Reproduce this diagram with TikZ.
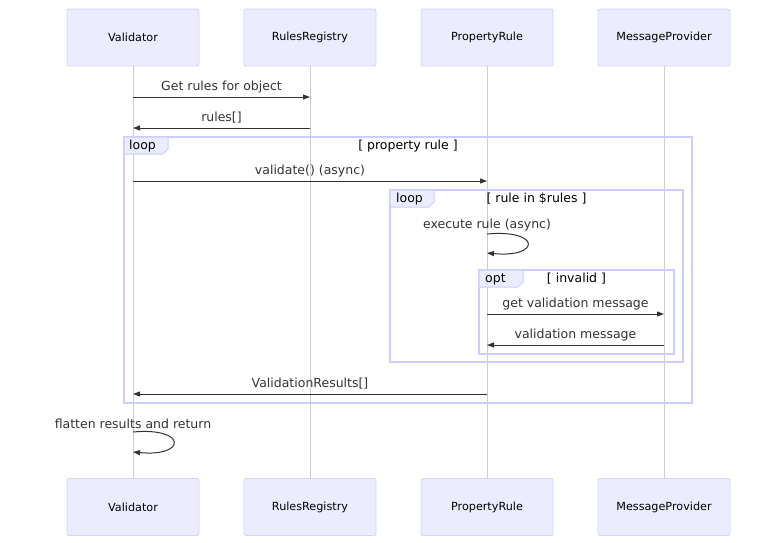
\documentclass[tikz,border=0pt]{standalone}
\usepackage{fontspec}
\setmainfont{DejaVu Sans}
\usetikzlibrary{arrows.meta}
\definecolor{actorfill}{HTML}{ECECFF}
\definecolor{actorline}{HTML}{D6D3F4}
\definecolor{framecol}{HTML}{CCCCFF}
\definecolor{lifecol}{HTML}{CCCCCC}
\definecolor{msgcol}{HTML}{333333}
\tikzset{
  x=1pt, y=-1pt,
  actor/.style={draw=actorline, fill=actorfill, rounded corners=2pt, line width=0.8pt,
    minimum width=132pt, minimum height=57pt, inner sep=0pt, font=\fontsize{11.2}{13}\selectfont},
  lifeline/.style={draw=lifecol, line width=1pt},
  msg/.style={draw=msgcol, line width=1pt, -{Triangle[length=7pt,width=5pt]}},
  msgtext/.style={font=\fontsize{12.5}{14}\selectfont, text=msgcol, inner sep=0pt},
  frame/.style={draw=framecol, line width=1.4pt},
  tab/.style={draw=framecol, fill=actorfill, line width=1pt},
  tabtext/.style={font=\fontsize{12.5}{14}\selectfont, inner sep=0pt, anchor=west},
  condtext/.style={font=\fontsize{12.5}{14}\selectfont, inner sep=0pt}
}
\begin{document}
\begin{tikzpicture}
\useasboundingbox[fill=white] (0,0) rectangle (784,543);

% participants, top and bottom
\foreach \n/\x/\t in {v/133/Validator, r/310/RulesRegistry, p/487/PropertyRule, m/664/MessageProvider}{
  \node[actor] (\n top) at (\x,37.5) {\t};
  \node[actor] (\n bot) at (\x,507) {\t};
  \draw[lifeline] (\n top.south) -- (\n bot.north);
}

% outer loop frame
\draw[frame] (124,137) rectangle (692,403);
\draw[tab] (124,137) -- (168,137) -- (168,149) -- (163,154) -- (124,154) -- cycle;
\node[tabtext] (l1tab) at (129,146) {loop};
\node[condtext] (l1cond) at (408,146) {[ property rule ]};

% inner loop frame
\draw[frame] (390,190) rectangle (683,362);
\draw[tab] (390,190) -- (434,190) -- (434,202) -- (429,207) -- (390,207) -- cycle;
\node[tabtext] (l2tab) at (396,199) {loop};
\node[condtext] (l2cond) at (536.5,199) {[ rule in \$rules ]};

% opt frame
\draw[frame] (479,270) rectangle (674,354);
\draw[tab] (479,270) -- (523,270) -- (523,282) -- (518,287) -- (479,287) -- cycle;
\node[tabtext] (opttab) at (485,279) {opt};
\node[condtext] (optcond) at (576.5,279) {[ invalid ]};

% anchor points on the lifelines
\foreach \n/\x in {v/133, r/310, p/487, m/664}{
  \foreach \y in {97,128,181,234,253,314,345,394,432,452}{
    \coordinate (\n\y) at (\x,\y);
  }
}

% messages
\node[msgtext] (t1) at (221.5,87) {Get rules for object};
\draw[msg] (v97) -- (r97);
\node[msgtext] (t2) at (221.5,118) {rules[]};
\draw[msg] (r128) -- (v128);
\node[msgtext] (t3) at (310,171) {validate() (async)};
\draw[msg] (v181) -- (p181);
\node[msgtext] (t4) at (487,225) {execute rule (async)};
\draw[msg] (p234) .. controls (541,229) and (541,258) .. (p253);
\node[msgtext] (t5) at (575.5,304) {get validation message};
\draw[msg] (p314) -- (m314);
\node[msgtext] (t6) at (575.5,335) {validation message};
\draw[msg] (m345) -- (p345);
\node[msgtext] (t7) at (310,384) {ValidationResults[]};
\draw[msg] (p394) -- (v394);
\node[msgtext] (t8) at (133,424) {flatten results and return};
\draw[msg] (v432) .. controls (187,427) and (187,457) .. (v452);
\end{tikzpicture}
\end{document}
